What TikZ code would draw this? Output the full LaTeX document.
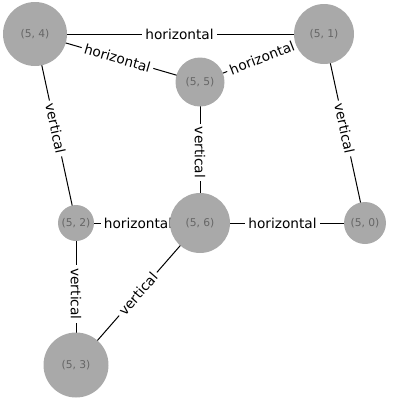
\documentclass[tikz,border=0pt]{standalone}
\usepackage{fontspec}
\setmainfont{DejaVu Sans}
\usetikzlibrary{backgrounds}
\definecolor{nodegray}{HTML}{A9A9A9}
\definecolor{labelgray}{HTML}{666666}
\tikzset{
x=1pt, y=-1pt, % one unit is one pixel, y runs downwards
vertex/.style={circle, fill=nodegray, text=labelgray, inner sep=0pt, font=\fontsize{10.7}{12}\selectfont}, % the grey nodes
edgelabel/.style={sloped, fill=white, inner sep=3pt, text=black, font=\fontsize{13.7}{16}\selectfont}, % text sitting on an edge
every edge/.style={draw, line width=1pt}, % plain black connectors
}

\begin{document}
\begin{tikzpicture}
    \useasboundingbox (0,0) rectangle (400,400);
    \node[vertex, minimum size=64] (n4) at (35,34) {(5, 4)};
    \node[vertex, minimum size=60] (n1) at (324,34) {(5, 1)};
    \node[vertex, minimum size=49] (n5) at (200,82) {(5, 5)};
    \node[vertex, minimum size=36] (n2) at (76,223) {(5, 2)};
    \node[vertex, minimum size=60] (n6) at (200,223) {(5, 6)};
    \node[vertex, minimum size=42] (n0) at (365,223) {(5, 0)};
    \node[vertex, minimum size=65] (n3) at (76,365) {(5, 3)};
    \begin{scope}[on background layer]
    \draw (n4.center) edge node[edgelabel]{horizontal} (n1.center)
    (n4.center) edge node[edgelabel]{horizontal} (n5.center)
    (n5.center) edge node[edgelabel]{horizontal} (n1.center)
    (n4.center) edge node[edgelabel]{vertical} (n2.center)
    (n5.center) edge node[edgelabel]{vertical} (n6.center)
    (n1.center) edge node[edgelabel]{vertical} (n0.center)
    (n2.center) edge node[edgelabel]{horizontal} (n6.center)
    (n6.center) edge node[edgelabel]{horizontal} (n0.center)
    (n2.center) edge node[edgelabel]{vertical} (n3.center)
    (n6.center) edge node[edgelabel]{vertical} (n3.center);
    \end{scope}
\end{tikzpicture}
\end{document}
